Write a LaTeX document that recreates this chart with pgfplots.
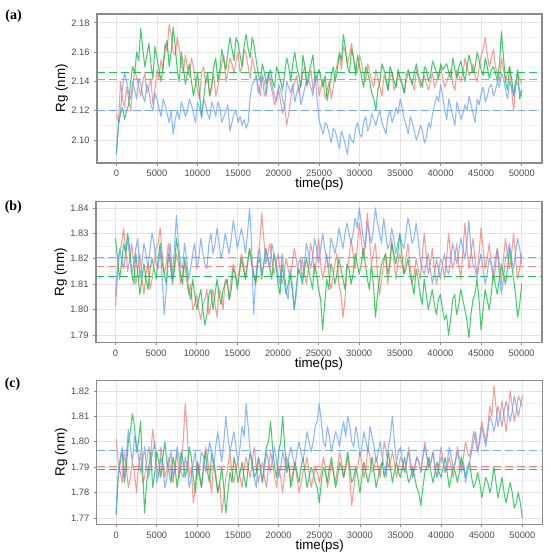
\documentclass[border=0pt]{standalone}
\usepackage{pgfplots}
\pgfplotsset{compat=1.18}
\usepackage{pgfplotstable}
\usepackage{fontspec}
\setmainfont{Liberation Sans}
\newfontfamily\panelfont{Liberation Serif}
\definecolor{cr}{HTML}{F8766D}
\definecolor{cg}{HTML}{00BA38}
\definecolor{cb}{HTML}{619CFF}
\definecolor{tickc}{HTML}{4D4D4D}
\definecolor{bord}{HTML}{8C8C8C}
\definecolor{gmaj}{HTML}{E3E3E3}
\definecolor{gmin}{HTML}{F1F1F1}

\pgfplotstableread{
t r g b
0 2.118 2.091 2.090
500 2.140 2.118 2.120
1000 2.122 2.114 2.146
1500 2.128 2.124 2.132
2000 2.135 2.150 2.140
2500 2.142 2.160 2.128
3000 2.130 2.176 2.138
3500 2.146 2.150 2.126
4000 2.136 2.166 2.134
4500 2.124 2.142 2.120
5000 2.148 2.156 2.128
5500 2.155 2.140 2.116
6000 2.166 2.162 2.124
6500 2.179 2.150 2.112
7000 2.160 2.177 2.104
7500 2.170 2.148 2.120
8000 2.152 2.160 2.126
8500 2.158 2.138 2.116
9000 2.143 2.152 2.128
9500 2.150 2.130 2.118
10000 2.134 2.146 2.126
10500 2.146 2.115 2.116
11000 2.138 2.140 2.124
11500 2.130 2.130 2.114
12000 2.145 2.150 2.122
12500 2.136 2.140 2.126
13000 2.152 2.162 2.112
13500 2.140 2.148 2.120
14000 2.156 2.170 2.106
14500 2.146 2.154 2.118
15000 2.160 2.166 2.112
15500 2.150 2.150 2.110
16000 2.158 2.172 2.108
16500 2.142 2.156 2.130
17000 2.150 2.164 2.140
17500 2.136 2.145 2.132
18000 2.144 2.152 2.144
18500 2.130 2.138 2.134
19000 2.138 2.148 2.142
19500 2.124 2.136 2.130
20000 2.135 2.146 2.138
20500 2.118 2.134 2.128
21000 2.110 2.156 2.140
21500 2.128 2.140 2.132
22000 2.140 2.160 2.126
22500 2.132 2.144 2.138
23000 2.146 2.158 2.130
23500 2.136 2.138 2.142
24000 2.148 2.152 2.136
24500 2.138 2.140 2.146
25000 2.130 2.148 2.114
25500 2.142 2.136 2.104
26000 2.134 2.127 2.110
26500 2.128 2.144 2.098
27000 2.146 2.140 2.106
27500 2.158 2.160 2.094
28000 2.164 2.172 2.102
28500 2.152 2.150 2.090
29000 2.166 2.162 2.100
29500 2.150 2.144 2.108
30000 2.158 2.150 2.104
30500 2.144 2.136 2.112
31000 2.152 2.146 2.106
31500 2.140 2.132 2.118
32000 2.148 2.120 2.110
32500 2.136 2.140 2.120
33000 2.144 2.148 2.108
33500 2.134 2.134 2.116
34000 2.146 2.146 2.112
34500 2.138 2.136 2.122
35000 2.142 2.142 2.128
35500 2.132 2.132 2.114
36000 2.146 2.148 2.104
36500 2.138 2.138 2.112
37000 2.148 2.152 2.100
37500 2.136 2.140 2.110
38000 2.144 2.150 2.098
38500 2.134 2.140 2.112
39000 2.146 2.154 2.118
39500 2.140 2.146 2.130
40000 2.150 2.152 2.138
40500 2.136 2.150 2.120
41000 2.144 2.146 2.128
41500 2.138 2.156 2.116
42000 2.148 2.142 2.126
42500 2.140 2.154 2.114
43000 2.156 2.140 2.124
43500 2.144 2.158 2.130
44000 2.152 2.146 2.118
44500 2.140 2.160 2.128
45000 2.158 2.148 2.132
45500 2.170 2.156 2.126
46000 2.150 2.142 2.136
46500 2.162 2.150 2.130
47000 2.146 2.140 2.140
47500 2.156 2.174 2.146
48000 2.140 2.140 2.134
48500 2.150 2.150 2.140
49000 2.120 2.130 2.130
49500 2.145 2.148 2.138
50000 2.138 2.134 2.130
}\mainA

\pgfplotstableread{
t r g b
250 2.112 2.110 2.112
750 2.128 2.122 2.136
1250 2.136 2.120 2.140
1750 2.120 2.140 2.128
2250 2.148 2.146 2.134
2750 2.136 2.154 2.142
3250 2.140 2.162 2.130
3750 2.132 2.158 2.138
4250 2.142 2.152 2.124
4750 2.134 2.164 2.132
5250 2.142 2.148 2.122
5750 2.148 2.150 2.128
6250 2.160 2.168 2.118
6750 2.172 2.160 2.120
7250 2.158 2.164 2.114
7750 2.162 2.140 2.114
8250 2.146 2.150 2.122
8750 2.150 2.145 2.120
9250 2.156 2.140 2.124
9750 2.140 2.138 2.112
10250 2.128 2.132 2.122
10750 2.150 2.128 2.128
11250 2.142 2.146 2.118
11750 2.138 2.136 2.126
12250 2.130 2.156 2.116
12750 2.144 2.148 2.122
13250 2.158 2.154 2.116
13750 2.146 2.160 2.124
14250 2.152 2.162 2.112
14750 2.154 2.170 2.120
15250 2.146 2.158 2.116
15750 2.162 2.164 2.114
16250 2.150 2.162 2.112
16750 2.156 2.170 2.138
17250 2.144 2.154 2.144
17750 2.130 2.140 2.138
18250 2.140 2.146 2.130
18750 2.144 2.144 2.146
19250 2.132 2.140 2.136
19750 2.128 2.150 2.126
20250 2.126 2.140 2.134
20750 2.124 2.146 2.122
21250 2.118 2.150 2.136
21750 2.136 2.152 2.138
22250 2.144 2.150 2.132
22750 2.138 2.136 2.124
23250 2.150 2.150 2.136
23750 2.142 2.146 2.140
24250 2.134 2.158 2.130
24750 2.144 2.144 2.128
25250 2.136 2.142 2.108
25750 2.128 2.144 2.112
26250 2.140 2.136 2.104
26750 2.136 2.150 2.108
27250 2.152 2.148 2.100
27750 2.148 2.154 2.106
28250 2.160 2.162 2.096
28750 2.158 2.146 2.104
29250 2.156 2.156 2.098
29750 2.146 2.158 2.112
30250 2.152 2.142 2.102
30750 2.140 2.150 2.116
31250 2.146 2.140 2.110
31750 2.136 2.128 2.114
32250 2.142 2.134 2.116
32750 2.130 2.152 2.112
33250 2.140 2.142 2.104
33750 2.142 2.150 2.120
34250 2.134 2.140 2.116
34750 2.146 2.148 2.118
35250 2.138 2.138 2.122
35750 2.140 2.144 2.110
36250 2.142 2.142 2.116
36750 2.134 2.146 2.106
37250 2.142 2.144 2.104
37750 2.140 2.136 2.106
38250 2.138 2.148 2.102
38750 2.140 2.144 2.108
39250 2.136 2.150 2.124
39750 2.144 2.142 2.126
40250 2.142 2.148 2.130
40750 2.140 2.152 2.114
41250 2.148 2.142 2.122
41750 2.134 2.148 2.110
42250 2.144 2.150 2.120
42750 2.146 2.146 2.118
43250 2.150 2.150 2.120
43750 2.146 2.152 2.124
44250 2.144 2.150 2.112
44750 2.150 2.154 2.124
45250 2.162 2.144 2.136
45750 2.158 2.150 2.130
46250 2.156 2.148 2.138
46750 2.150 2.146 2.134
47250 2.140 2.152 2.136
47750 2.148 2.156 2.142
48250 2.146 2.134 2.128
48750 2.134 2.142 2.136
49250 2.136 2.140 2.140
49750 2.142 2.128 2.134
}\midA

\pgfplotstableread{
t r g b
0 1.801 1.828 1.805
500 1.822 1.812 1.824
1000 1.832 1.826 1.816
1500 1.815 1.830 1.828
2000 1.826 1.814 1.814
2500 1.810 1.822 1.824
3000 1.822 1.806 1.812
3500 1.806 1.818 1.826
4000 1.818 1.808 1.816
4500 1.812 1.820 1.830
5000 1.824 1.812 1.818
5500 1.832 1.826 1.824
6000 1.814 1.814 1.798
6500 1.826 1.822 1.820
7000 1.812 1.810 1.812
7500 1.822 1.828 1.837
8000 1.810 1.814 1.818
8500 1.818 1.820 1.826
9000 1.806 1.808 1.812
9500 1.800 1.812 1.822
10000 1.806 1.800 1.816
10500 1.796 1.808 1.828
11000 1.804 1.794 1.818
11500 1.798 1.806 1.826
12000 1.808 1.800 1.822
12500 1.797 1.812 1.832
13000 1.806 1.802 1.820
13500 1.812 1.810 1.830
14000 1.804 1.804 1.822
14500 1.818 1.816 1.835
15000 1.810 1.808 1.824
15500 1.822 1.820 1.832
16000 1.812 1.812 1.822
16500 1.824 1.824 1.840
17000 1.814 1.814 1.798
17500 1.820 1.818 1.820
18000 1.838 1.812 1.814
18500 1.818 1.824 1.824
19000 1.826 1.816 1.816
19500 1.814 1.822 1.822
20000 1.822 1.810 1.814
20500 1.810 1.818 1.822
21000 1.820 1.806 1.808
21500 1.812 1.814 1.816
22000 1.824 1.800 1.800
22500 1.814 1.816 1.818
23000 1.820 1.810 1.812
23500 1.810 1.820 1.826
24000 1.826 1.812 1.816
24500 1.814 1.818 1.828
25000 1.828 1.808 1.818
25500 1.812 1.792 1.830
26000 1.822 1.812 1.820
26500 1.808 1.818 1.828
27000 1.818 1.810 1.822
27500 1.810 1.820 1.832
28000 1.797 1.812 1.824
28500 1.816 1.818 1.834
29000 1.828 1.810 1.826
29500 1.816 1.822 1.836
30000 1.834 1.814 1.840
30500 1.820 1.824 1.828
31000 1.838 1.812 1.834
31500 1.818 1.818 1.826
32000 1.826 1.797 1.840
32500 1.806 1.812 1.830
33000 1.818 1.820 1.836
33500 1.810 1.814 1.824
34000 1.828 1.826 1.832
34500 1.812 1.818 1.822
35000 1.822 1.830 1.830
35500 1.814 1.814 1.824
36000 1.826 1.820 1.836
36500 1.810 1.810 1.826
37000 1.820 1.816 1.834
37500 1.812 1.806 1.820
38000 1.830 1.812 1.814
38500 1.814 1.800 1.822
39000 1.824 1.808 1.810
39500 1.810 1.798 1.820
40000 1.820 1.806 1.812
40500 1.812 1.796 1.822
41000 1.830 1.790 1.814
41500 1.816 1.804 1.826
42000 1.826 1.798 1.818
42500 1.812 1.808 1.828
43000 1.834 1.800 1.820
43500 1.816 1.789 1.835
44000 1.828 1.804 1.818
44500 1.814 1.812 1.812
45000 1.832 1.792 1.822
45500 1.816 1.808 1.810
46000 1.826 1.800 1.820
46500 1.812 1.814 1.814
47000 1.824 1.806 1.824
47500 1.810 1.818 1.806
48000 1.828 1.810 1.820
48500 1.816 1.824 1.826
49000 1.830 1.812 1.816
49500 1.812 1.797 1.828
50000 1.822 1.810 1.818
}\mainB

\pgfplotstableread{
t r g b
250 1.814 1.820 1.818
750 1.826 1.818 1.820
1250 1.824 1.822 1.822
1750 1.820 1.824 1.820
2250 1.818 1.810 1.818
2750 1.816 1.814 1.828
3250 1.812 1.812 1.818
3750 1.814 1.812 1.822
4250 1.808 1.816 1.824
4750 1.818 1.816 1.826
5250 1.826 1.820 1.816
5750 1.822 1.818 1.812
6250 1.818 1.810 1.808
6750 1.820 1.818 1.826
7250 1.816 1.816 1.824
7750 1.818 1.822 1.826
8250 1.814 1.810 1.816
8750 1.812 1.816 1.820
9250 1.810 1.804 1.816
9750 1.802 1.806 1.826
10250 1.800 1.804 1.820
10750 1.802 1.800 1.822
11250 1.808 1.798 1.816
11750 1.802 1.808 1.830
12250 1.802 1.806 1.826
12750 1.808 1.806 1.826
13250 1.800 1.808 1.824
13750 1.810 1.812 1.826
14250 1.812 1.808 1.828
14750 1.814 1.814 1.830
15250 1.816 1.814 1.828
15750 1.818 1.816 1.828
16250 1.818 1.818 1.830
16750 1.820 1.818 1.826
17250 1.810 1.810 1.812
17750 1.826 1.820 1.824
18250 1.828 1.818 1.818
18750 1.822 1.820 1.820
19250 1.820 1.812 1.826
19750 1.818 1.818 1.818
20250 1.816 1.806 1.810
20750 1.814 1.812 1.816
21250 1.816 1.810 1.804
21750 1.818 1.808 1.810
22250 1.820 1.808 1.806
22750 1.816 1.814 1.820
23250 1.814 1.816 1.818
23750 1.816 1.816 1.822
24250 1.822 1.808 1.820
24750 1.820 1.814 1.824
25250 1.818 1.804 1.824
25750 1.816 1.802 1.824
26250 1.814 1.808 1.816
26750 1.812 1.816 1.826
27250 1.822 1.814 1.826
27750 1.806 1.816 1.828
28250 1.804 1.808 1.830
28750 1.820 1.816 1.830
29250 1.822 1.814 1.830
29750 1.824 1.818 1.832
30250 1.828 1.818 1.834
30750 1.826 1.818 1.824
31250 1.828 1.808 1.830
31750 1.822 1.810 1.832
32250 1.814 1.806 1.834
32750 1.812 1.818 1.826
33250 1.822 1.822 1.830
33750 1.816 1.818 1.826
34250 1.820 1.822 1.828
34750 1.818 1.822 1.826
35250 1.818 1.822 1.826
35750 1.820 1.816 1.830
36250 1.818 1.814 1.832
36750 1.814 1.806 1.828
37250 1.816 1.812 1.828
37750 1.820 1.802 1.816
38250 1.822 1.806 1.818
38750 1.818 1.804 1.816
39250 1.816 1.802 1.814
39750 1.814 1.804 1.816
40250 1.818 1.800 1.818
40750 1.820 1.798 1.816
41250 1.822 1.796 1.820
41750 1.820 1.806 1.822
42250 1.818 1.802 1.822
42750 1.822 1.804 1.824
43250 1.824 1.796 1.826
43750 1.822 1.798 1.824
44250 1.820 1.806 1.816
44750 1.822 1.804 1.818
45250 1.824 1.800 1.816
45750 1.820 1.804 1.814
46250 1.818 1.806 1.818
46750 1.816 1.810 1.820
47250 1.818 1.812 1.814
47750 1.820 1.814 1.812
48250 1.822 1.816 1.822
48750 1.822 1.818 1.820
49250 1.820 1.806 1.822
49750 1.816 1.802 1.824
}\midB

\pgfplotstableread{
t r g b
0 1.801 1.772 1.771
500 1.788 1.792 1.794
1000 1.796 1.784 1.786
1500 1.782 1.800 1.805
2000 1.792 1.811 1.792
2500 1.780 1.796 1.800
3000 1.796 1.808 1.788
3500 1.786 1.772 1.798
4000 1.798 1.790 1.786
4500 1.805 1.782 1.796
5000 1.790 1.796 1.784
5500 1.798 1.786 1.794
6000 1.786 1.800 1.782
6500 1.794 1.788 1.792
7000 1.784 1.794 1.786
7500 1.796 1.782 1.798
8000 1.790 1.796 1.788
8500 1.815 1.786 1.794
9000 1.786 1.798 1.782
9500 1.776 1.786 1.792
10000 1.792 1.792 1.786
10500 1.782 1.782 1.796
11000 1.798 1.796 1.788
11500 1.786 1.784 1.800
12000 1.792 1.792 1.790
12500 1.780 1.780 1.804
13000 1.772 1.790 1.792
13500 1.786 1.772 1.810
14000 1.796 1.788 1.796
14500 1.784 1.794 1.804
15000 1.792 1.784 1.792
15500 1.782 1.792 1.806
16000 1.794 1.782 1.815
16500 1.786 1.796 1.796
17000 1.798 1.786 1.786
17500 1.784 1.794 1.794
18000 1.792 1.784 1.784
18500 1.782 1.798 1.796
19000 1.796 1.808 1.788
19500 1.786 1.790 1.798
20000 1.790 1.796 1.786
20500 1.780 1.810 1.796
21000 1.794 1.788 1.788
21500 1.784 1.782 1.798
22000 1.792 1.792 1.790
22500 1.780 1.784 1.800
23000 1.788 1.794 1.792
23500 1.794 1.782 1.804
24000 1.782 1.790 1.796
24500 1.790 1.784 1.806
25000 1.784 1.776 1.815
25500 1.794 1.790 1.800
26000 1.782 1.784 1.806
26500 1.792 1.794 1.796
27000 1.784 1.782 1.804
27500 1.796 1.792 1.798
28000 1.786 1.786 1.808
28500 1.794 1.796 1.810
29000 1.775 1.784 1.800
29500 1.788 1.790 1.806
30000 1.796 1.780 1.794
30500 1.786 1.792 1.804
31000 1.798 1.784 1.796
31500 1.788 1.794 1.802
32000 1.794 1.782 1.792
32500 1.786 1.790 1.800
33000 1.800 1.786 1.790
33500 1.790 1.796 1.798
34000 1.796 1.784 1.810
34500 1.786 1.792 1.792
35000 1.794 1.786 1.798
35500 1.788 1.794 1.788
36000 1.798 1.784 1.796
36500 1.786 1.790 1.786
37000 1.794 1.782 1.794
37500 1.788 1.775 1.788
38000 1.800 1.788 1.798
38500 1.790 1.794 1.790
39000 1.796 1.784 1.796
39500 1.786 1.792 1.786
40000 1.798 1.786 1.794
40500 1.788 1.794 1.788
41000 1.794 1.782 1.798
41500 1.786 1.790 1.790
42000 1.798 1.784 1.796
42500 1.790 1.794 1.788
43000 1.800 1.786 1.784
43500 1.794 1.792 1.792
44000 1.804 1.782 1.800
44500 1.796 1.788 1.796
45000 1.808 1.778 1.806
45500 1.800 1.786 1.798
46000 1.814 1.780 1.810
46500 1.822 1.790 1.804
47000 1.806 1.778 1.814
47500 1.816 1.786 1.806
48000 1.804 1.776 1.816
48500 1.820 1.784 1.808
49000 1.808 1.774 1.818
49500 1.818 1.780 1.810
50000 1.814 1.770 1.818
}\mainC

\pgfplotstableread{
t r g b
250 1.792 1.786 1.788
750 1.784 1.796 1.798
1250 1.790 1.790 1.794
1750 1.786 1.804 1.798
2250 1.788 1.806 1.802
2750 1.790 1.800 1.794
3250 1.784 1.790 1.792
3750 1.792 1.784 1.790
4250 1.794 1.796 1.792
4750 1.798 1.788 1.800
5250 1.786 1.792 1.788
5750 1.792 1.794 1.790
6250 1.790 1.792 1.786
6750 1.788 1.784 1.796
7250 1.790 1.790 1.790
7750 1.786 1.788 1.794
8250 1.800 1.792 1.786
8750 1.804 1.790 1.790
9250 1.790 1.794 1.786
9750 1.782 1.780 1.796
10250 1.786 1.788 1.790
10750 1.790 1.790 1.794
11250 1.794 1.788 1.794
11750 1.780 1.796 1.796
12250 1.788 1.786 1.798
12750 1.784 1.784 1.798
13250 1.778 1.782 1.800
13750 1.790 1.780 1.802
14250 1.788 1.784 1.800
14750 1.790 1.790 1.798
15250 1.786 1.788 1.798
15750 1.790 1.786 1.802
16250 1.790 1.790 1.806
16750 1.792 1.792 1.790
17250 1.790 1.788 1.782
17750 1.788 1.790 1.790
18250 1.786 1.792 1.790
18750 1.790 1.800 1.792
19250 1.792 1.798 1.794
19750 1.782 1.786 1.792
20250 1.786 1.800 1.790
20750 1.788 1.798 1.792
21250 1.790 1.792 1.794
21750 1.788 1.786 1.794
22250 1.786 1.788 1.796
22750 1.784 1.790 1.796
23250 1.790 1.788 1.798
23750 1.788 1.786 1.800
24250 1.786 1.788 1.800
24750 1.788 1.782 1.808
25250 1.788 1.784 1.808
25750 1.790 1.788 1.798
26250 1.786 1.790 1.802
26750 1.788 1.788 1.800
27250 1.790 1.786 1.802
27750 1.792 1.790 1.804
28250 1.790 1.790 1.802
28750 1.786 1.790 1.806
29250 1.782 1.786 1.798
29750 1.790 1.786 1.802
30250 1.792 1.786 1.798
30750 1.790 1.788 1.800
31250 1.794 1.788 1.806
31750 1.790 1.788 1.798
32250 1.790 1.786 1.796
32750 1.792 1.792 1.794
33250 1.796 1.790 1.786
33750 1.792 1.790 1.802
34250 1.792 1.788 1.800
34750 1.790 1.788 1.796
35250 1.792 1.790 1.792
35750 1.792 1.788 1.792
36250 1.790 1.786 1.792
36750 1.790 1.786 1.790
37250 1.792 1.780 1.792
37750 1.794 1.782 1.794
38250 1.794 1.790 1.794
38750 1.792 1.788 1.792
39250 1.790 1.788 1.790
39750 1.792 1.788 1.790
40250 1.792 1.790 1.792
40750 1.790 1.788 1.792
41250 1.790 1.786 1.794
41750 1.792 1.788 1.792
42250 1.794 1.788 1.792
42750 1.794 1.790 1.792
43250 1.796 1.790 1.788
43750 1.798 1.786 1.796
44250 1.800 1.784 1.804
44750 1.802 1.784 1.800
45250 1.804 1.782 1.802
45750 1.806 1.784 1.804
46250 1.810 1.784 1.808
46750 1.814 1.784 1.808
47250 1.810 1.782 1.810
47750 1.810 1.780 1.812
48250 1.812 1.780 1.812
48750 1.814 1.780 1.812
49250 1.812 1.776 1.814
49750 1.816 1.776 1.814
}\midC

\pgfplotstablevertcat{\mainA}{\midA}
\pgfplotstablesort[sort key=t]{\dataA}{\mainA}
\pgfplotstablevertcat{\mainB}{\midB}
\pgfplotstablesort[sort key=t]{\dataB}{\mainB}
\pgfplotstablevertcat{\mainC}{\midC}
\pgfplotstablesort[sort key=t]{\dataC}{\mainC}

\pgfplotsset{
  rg/.style={
    scale only axis, anchor=north west,
    xmin=-2400, xmax=52500,
    xtick={0,5000,...,50000},
    minor x tick num=1, minor y tick num=1,
    grid=both,
    major grid style={gmaj, line width=0.5pt},
    minor grid style={gmin, line width=0.35pt},
    tick align=outside, major tick length=2pt, minor tick length=0pt,
    xtick pos=bottom, ytick pos=left,
    tick style={bord, line width=0.5pt},
    axis line style={bord, line width=0.8pt},
    scaled x ticks=false, scaled y ticks=false,
    x tick label style={/pgf/number format/fixed, /pgf/number format/set thousands separator={}},
    y tick label style={/pgf/number format/fixed, /pgf/number format/fixed zerofill, /pgf/number format/precision=2},
    /pgf/number format/assume math mode=true,
    tick label style={font=\fontsize{7}{8}\selectfont, text=tickc},
    xlabel={time(ps)}, ylabel={Rg (nm)},
    label style={font=\fontsize{9.3}{11}\selectfont},
    every axis x label/.style={at={(axis description cs:0.5,0)}, anchor=center, yshift=-16pt},
    every axis y label/.style={at={(axis description cs:-0.0793,0.5)}, anchor=center, rotate=90},
  },
  ser/.style={line width=0.8pt, opacity=0.72, line join=round},
  mean/.style={line width=0.65pt, dash pattern=on 6pt off 3pt, opacity=0.85},
}

\begin{document}
\begin{tikzpicture}
\useasboundingbox (0,0) rectangle (412.5pt,-419.25pt);

% (a)
\begin{axis}[rg, at={(72.75pt,-10.5pt)}, width=333.75pt, height=111.75pt,
  ymin=2.0843, ymax=2.186, ytick={2.10,2.12,2.14,2.16,2.18}]
\addplot[ser, cr] table[x=t,y=r]{\dataA};
\addplot[ser, cg] table[x=t,y=g]{\dataA};
\addplot[ser, cb] table[x=t,y=b]{\dataA};
\addplot[mean, cg] coordinates {(-2400,2.146) (52500,2.146)};
\addplot[mean, cr] coordinates {(-2400,2.141) (52500,2.141)};
\addplot[mean, cb] coordinates {(-2400,2.120) (52500,2.120)};
\end{axis}

% (b)
\begin{axis}[rg, at={(72pt,-151.3pt)}, width=334.5pt, height=105.75pt,
  ymin=1.787, ymax=1.8424, ytick={1.79,1.80,1.81,1.82,1.83,1.84}]
\addplot[ser, cr] table[x=t,y=r]{\dataB};
\addplot[ser, cg] table[x=t,y=g]{\dataB};
\addplot[ser, cb] table[x=t,y=b]{\dataB};
\addplot[mean, cb] coordinates {(-2400,1.8205) (52500,1.8205)};
\addplot[mean, cr] coordinates {(-2400,1.817) (52500,1.817)};
\addplot[mean, cg] coordinates {(-2400,1.813) (52500,1.813)};
\end{axis}

% (c)
\begin{axis}[rg, at={(72.5pt,-285.5pt)}, width=334.5pt, height=107.7pt,
  ymin=1.7676, ymax=1.824, ytick={1.77,1.78,1.79,1.80,1.81,1.82}]
\addplot[ser, cr] table[x=t,y=r]{\dataC};
\addplot[ser, cg] table[x=t,y=g]{\dataC};
\addplot[ser, cb] table[x=t,y=b]{\dataC};
\addplot[mean, cb] coordinates {(-2400,1.7965) (52500,1.7965)};
\addplot[mean, cr] coordinates {(-2400,1.7905) (52500,1.7905)};
\addplot[mean, cg] coordinates {(-2400,1.789) (52500,1.789)};
\end{axis}

\node[font=\panelfont\bfseries\fontsize{10.5}{12}\selectfont] at (10.2pt,-12.2pt) {(a)};
\node[font=\panelfont\bfseries\fontsize{10.5}{12}\selectfont] at (10pt,-155pt) {(b)};
\node[font=\panelfont\bfseries\fontsize{10.5}{12}\selectfont] at (9.4pt,-288.4pt) {(c)};
\end{tikzpicture}
\end{document}
